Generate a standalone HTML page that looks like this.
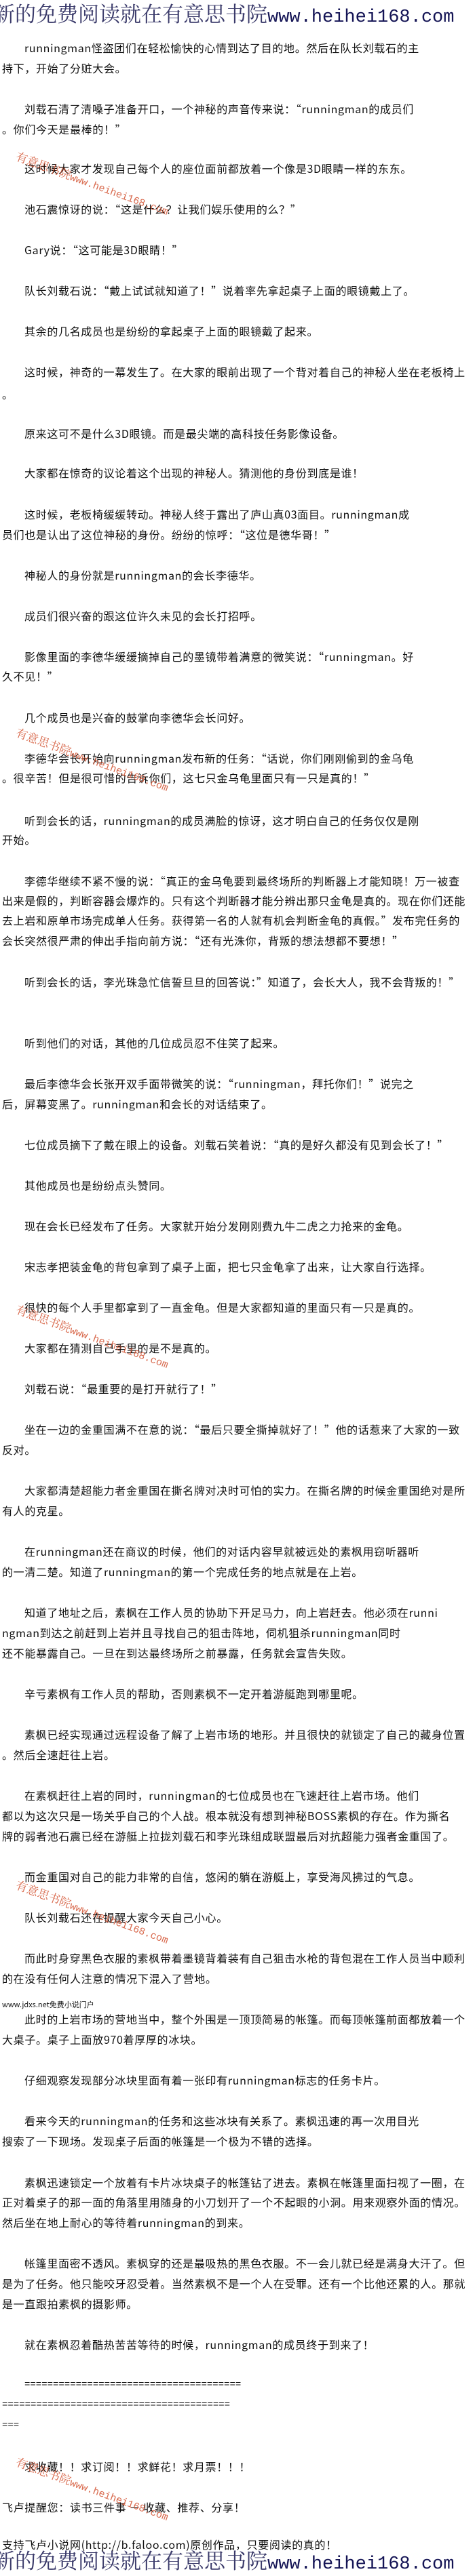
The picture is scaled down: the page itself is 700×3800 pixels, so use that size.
<!DOCTYPE html>
<html><head><meta charset="utf-8">
<style>
html,body{margin:0;padding:0;background:#fff;}
body{width:700px;height:3800px;position:relative;overflow:hidden;}
.l{position:absolute;left:3px;height:30px;line-height:30px;font-size:16px;letter-spacing:0.66px;white-space:nowrap;color:#111;font-family:"Noto Sans CJK SC","Liberation Sans",sans-serif;}
.i{left:36px;}
.m{font-family:"Liberation Mono",monospace;font-size:14px;letter-spacing:0;}
.ban{position:absolute;left:-9px;height:34px;line-height:34px;white-space:nowrap;font-family:"Noto Serif CJK SC","Liberation Serif",serif;font-size:31px;color:#3a3a6a;transform-origin:0 50%;}
.ban b{font-weight:normal;font-family:"Liberation Mono",monospace;color:#141455;font-size:27px;}
.wm{position:absolute;left:29px;white-space:nowrap;color:#d2502e;opacity:.85;transform:rotate(20deg);transform-origin:0 0;font-family:"Noto Serif CJK SC","Liberation Serif",serif;font-size:17px;}
.wm span{font-family:"Liberation Mono",monospace;font-size:15px;}
</style></head><body>
<div class="ban" style="top:2px">新的免费阅读就在有意思书院<b>www.heihei168.com</b></div>
<div class="ban" style="top:3759px">新的免费阅读就在有意思书院<b>www.heihei168.com</b></div>

<div class="l i" style="top:55px">runningman怪盗团们在轻松愉快的心情到达了目的地。然后在队长刘载石的主</div>
<div class="l" style="top:85px">持下，开始了分赃大会。</div>
<div class="l i" style="top:145px">刘载石清了清嗓子准备开口，一个神秘的声音传来说：“runningman的成员们</div>
<div class="l" style="top:175px">。你们今天是最棒的！”</div>
<div class="l i" style="top:233px">这时候大家才发现自己每个人的座位面前都放着一个像是3D眼睛一样的东东。</div>
<div class="l i" style="top:293px">池石震惊讶的说：“这是什么？让我们娱乐使用的么？”</div>
<div class="l i" style="top:353px">Gary说：“这可能是3D眼睛！”</div>
<div class="l i" style="top:413px">队长刘载石说：“戴上试试就知道了！”说着率先拿起桌子上面的眼镜戴上了。</div>
<div class="l i" style="top:473px">其余的几名成员也是纷纷的拿起桌子上面的眼镜戴了起来。</div>
<div class="l i" style="top:533px">这时候，神奇的一幕发生了。在大家的眼前出现了一个背对着自己的神秘人坐在老板椅上</div>
<div class="l" style="top:566px">。</div>
<div class="l i" style="top:624px">原来这可不是什么3D眼镜。而是最尖端的高科技任务影像设备。</div>
<div class="l i" style="top:682px">大家都在惊奇的议论着这个出现的神秘人。猜测他的身份到底是谁！</div>
<div class="l i" style="top:743px">这时候，老板椅缓缓转动。神秘人终于露出了庐山真03面目。runningman成</div>
<div class="l" style="top:773px">员们也是认出了这位神秘的身份。纷纷的惊呼：“这位是德华哥！”</div>
<div class="l i" style="top:833px">神秘人的身份就是runningman的会长李德华。</div>
<div class="l i" style="top:893px">成员们很兴奋的跟这位许久未见的会长打招呼。</div>
<div class="l i" style="top:953px">影像里面的李德华缓缓摘掉自己的墨镜带着满意的微笑说：“runningman。好</div>
<div class="l" style="top:982px">久不见！”</div>
<div class="l i" style="top:1043px">几个成员也是兴奋的鼓掌向李德华会长问好。</div>
<div class="l i" style="top:1103px">李德华会长开始向runningman发布新的任务：“话说，你们刚刚偷到的金乌龟</div>
<div class="l" style="top:1132px">。很辛苦！但是很可惜的告诉你们，这七只金乌龟里面只有一只是真的！”</div>
<div class="l i" style="top:1195px">听到会长的话，runningman的成员满脸的惊讶，这才明白自己的任务仅仅是刚</div>
<div class="l" style="top:1223px">开始。</div>
<div class="l i" style="top:1284px">李德华继续不紧不慢的说：“真正的金乌龟要到最终场所的判断器上才能知晓！万一被查</div>
<div class="l" style="top:1313px">出来是假的，判断容器会爆炸的。只有这个判断器才能分辨出那只金龟是真的。现在你们还能</div>
<div class="l" style="top:1342px">去上岩和原单市场完成单人任务。获得第一名的人就有机会判断金龟的真假。”发布完任务的</div>
<div class="l" style="top:1372px">会长突然很严肃的伸出手指向前方说：“还有光洙你，背叛的想法想都不要想！”</div>
<div class="l i" style="top:1433px">听到会长的话，李光珠急忙信誓旦旦的回答说：”知道了，会长大人，我不会背叛的！”</div>
<div class="l i" style="top:1523px">听到他们的对话，其他的几位成员忍不住笑了起来。</div>
<div class="l i" style="top:1583px">最后李德华会长张开双手面带微笑的说：“runningman，拜托你们！”说完之</div>
<div class="l" style="top:1613px">后，屏幕变黑了。runningman和会长的对话结束了。</div>
<div class="l i" style="top:1673px">七位成员摘下了戴在眼上的设备。刘载石笑着说：“真的是好久都没有见到会长了！”</div>
<div class="l i" style="top:1733px">其他成员也是纷纷点头赞同。</div>
<div class="l i" style="top:1793px">现在会长已经发布了任务。大家就开始分发刚刚费九牛二虎之力抢来的金龟。</div>
<div class="l i" style="top:1853px">宋志孝把装金龟的背包拿到了桌子上面，把七只金龟拿了出来，让大家自行选择。</div>
<div class="l i" style="top:1913px">很快的每个人手里都拿到了一直金龟。但是大家都知道的里面只有一只是真的。</div>
<div class="l i" style="top:1973px">大家都在猜测自己手里的是不是真的。</div>
<div class="l i" style="top:2033px">刘载石说：“最重要的是打开就行了！”</div>
<div class="l i" style="top:2093px">坐在一边的金重国满不在意的说：“最后只要全撕掉就好了！”他的话惹来了大家的一致</div>
<div class="l" style="top:2123px">反对。</div>
<div class="l i" style="top:2183px">大家都清楚超能力者金重国在撕名牌对决时可怕的实力。在撕名牌的时候金重国绝对是所</div>
<div class="l" style="top:2213px">有人的克星。</div>
<div class="l i" style="top:2273px">在runningman还在商议的时候，他们的对话内容早就被远处的素枫用窃听器听</div>
<div class="l" style="top:2303px">的一清二楚。知道了runningman的第一个完成任务的地点就是在上岩。</div>
<div class="l i" style="top:2363px">知道了地址之后，素枫在工作人员的协助下开足马力，向上岩赶去。他必须在runni</div>
<div class="l" style="top:2393px">ngman到达之前赶到上岩并且寻找自己的狙击阵地，伺机狙杀runningman同时</div>
<div class="l" style="top:2423px">还不能暴露自己。一旦在到达最终场所之前暴露，任务就会宣告失败。</div>
<div class="l i" style="top:2483px">辛亏素枫有工作人员的帮助，否则素枫不一定开着游艇跑到哪里呢。</div>
<div class="l i" style="top:2543px">素枫已经实现通过远程设备了解了上岩市场的地形。并且很快的就锁定了自己的藏身位置</div>
<div class="l" style="top:2573px">。然后全速赶往上岩。</div>
<div class="l i" style="top:2633px">在素枫赶往上岩的同时，runningman的七位成员也在飞速赶往上岩市场。他们</div>
<div class="l" style="top:2663px">都以为这次只是一场关乎自己的个人战。根本就没有想到神秘BOSS素枫的存在。作为撕名</div>
<div class="l" style="top:2693px">牌的弱者池石震已经在游艇上拉拢刘载石和李光珠组成联盟最后对抗超能力强者金重国了。</div>
<div class="l i" style="top:2753px">而金重国对自己的能力非常的自信，悠闲的躺在游艇上，享受海风拂过的气息。</div>
<div class="l i" style="top:2813px">队长刘载石还在提醒大家今天自己小心。</div>
<div class="l i" style="top:2873px">而此时身穿黑色衣服的素枫带着墨镜背着装有自己狙击水枪的背包混在工作人员当中顺利</div>
<div class="l" style="top:2903px">的在没有任何人注意的情况下混入了营地。</div>
<div class="l" style="top:2942px;font-size:11px;letter-spacing:0">www.jdxs.net免费小说门户</div>
<div class="l i" style="top:2963px">此时的上岩市场的营地当中，整个外围是一顶顶简易的帐篷。而每顶帐篷前面都放着一个</div>
<div class="l" style="top:2993px">大桌子。桌子上面放970着厚厚的冰块。</div>
<div class="l i" style="top:3053px">仔细观察发现部分冰块里面有着一张印有runningman标志的任务卡片。</div>
<div class="l i" style="top:3113px">看来今天的runningman的任务和这些冰块有关系了。素枫迅速的再一次用目光</div>
<div class="l" style="top:3143px">搜索了一下现场。发现桌子后面的帐篷是一个极为不错的选择。</div>
<div class="l i" style="top:3204px">素枫迅速锁定一个放着有卡片冰块桌子的帐篷钻了进去。素枫在帐篷里面扫视了一圈，在</div>
<div class="l" style="top:3233px">正对着桌子的那一面的角落里用随身的小刀划开了一个不起眼的小洞。用来观察外面的情况。</div>
<div class="l" style="top:3263px">然后坐在地上耐心的等待着runningman的到来。</div>
<div class="l i" style="top:3323px">帐篷里面密不透风。素枫穿的还是最吸热的黑色衣服。不一会儿就已经是满身大汗了。但</div>
<div class="l" style="top:3353px">是为了任务。他只能咬牙忍受着。当然素枫不是一个人在受罪。还有一个比他还累的人。那就</div>
<div class="l" style="top:3383px">是一直跟拍素枫的摄影师。</div>
<div class="l i" style="top:3443px">就在素枫忍着酷热苦苦等待的时候，runningman的成员终于到来了！</div>
<div class="l i m" style="top:3503px">======================================</div>
<div class="l m" style="top:3533px">========================================</div>
<div class="l m" style="top:3563px">===</div>
<div class="l i" style="top:3623px">求收藏！！求订阅！！求鲜花！求月票！！！</div>
<div class="l" style="top:3683px">飞卢提醒您：读书三件事 － 收藏、推荐、分享！</div>
<div class="l" style="top:3738px">支持飞卢小说网(http://b.faloo.com)原创作品，只要阅读的真的！</div>

<div class="wm" style="top:217px">有意思书院<span>www.heihei168.com</span></div>
<div class="wm" style="top:1067px">有意思书院<span>www.heihei168.com</span></div>
<div class="wm" style="top:1918px">有意思书院<span>www.heihei168.com</span></div>
<div class="wm" style="top:2767px">有意思书院<span>www.heihei168.com</span></div>
<div class="wm" style="top:3618px">有意思书院<span>www.heihei168.com</span></div>
</body></html>
